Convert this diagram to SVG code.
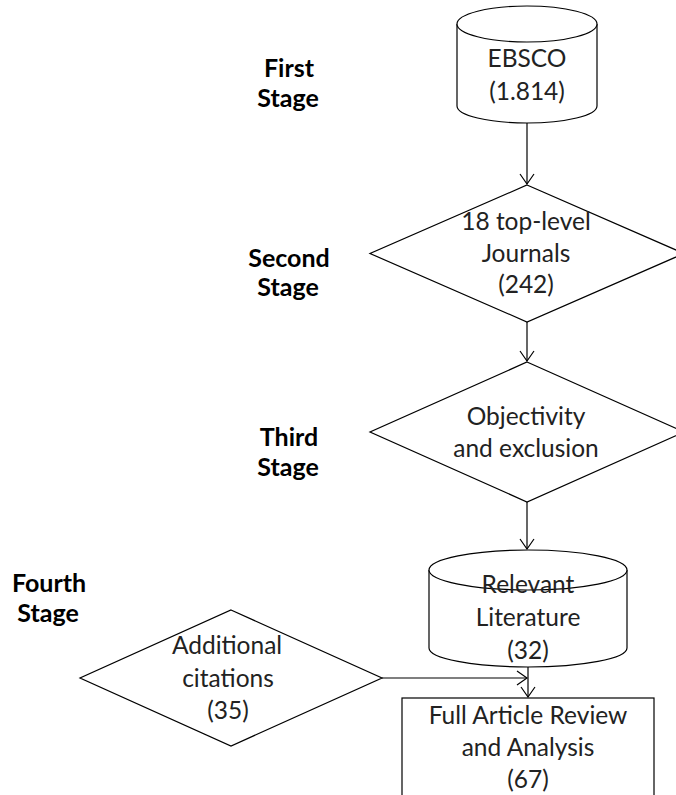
<svg xmlns="http://www.w3.org/2000/svg" width="676" height="795" viewBox="0 0 676 795">
<defs>
<style>
.shape{fill:#fff;stroke:#000;stroke-width:1.2}
.line{fill:none;stroke:#000;stroke-width:1.2}
.t{font-family:Lato,"Liberation Sans",sans-serif;font-size:24.5px;fill:#222;text-anchor:middle}
.s{font-family:Lato,"Liberation Sans",sans-serif;font-size:25px;font-weight:bold;fill:#000;text-anchor:middle}
</style>
<marker id="arr" viewBox="-12 -8 14 16" refX="0" refY="0" markerWidth="14" markerHeight="16" markerUnits="userSpaceOnUse" orient="auto">
<path d="M-10,-7 L0,0 L-10,7" fill="none" stroke="#000" stroke-width="1.2"/>
</marker>
</defs>
<rect width="676" height="795" fill="#fff"/>
<g id="labels">
<text class="s" x="289" y="77">First</text>
<text class="s" x="288" y="107">Stage</text>
<text class="s" x="289" y="267">Second</text>
<text class="s" x="288" y="296">Stage</text>
<text class="s" x="289" y="446">Third</text>
<text class="s" x="288" y="476">Stage</text>
<text class="s" x="49" y="592">Fourth</text>
<text class="s" x="48" y="622">Stage</text>
</g>
<g id="connectors">
<line class="line" x1="527" y1="123" x2="527" y2="184" marker-end="url(#arr)"/>
<line class="line" x1="527" y1="322" x2="527" y2="361" marker-end="url(#arr)"/>
<line class="line" x1="527" y1="502" x2="527" y2="549" marker-end="url(#arr)"/>
<line class="line" x1="528" y1="667" x2="528" y2="697" marker-end="url(#arr)"/>
<line class="line" x1="382" y1="678" x2="527" y2="678" marker-end="url(#arr)"/>
</g>
<g id="ebsco">
<path class="shape" d="M457,24 L457,106 A70,17 0 0 0 597,106 L597,24"/>
<ellipse class="shape" cx="527" cy="24" rx="70" ry="18"/>
<text class="t" x="527" y="67">EBSCO</text>
<text class="t" x="527" y="100">(1.814)</text>
</g>
<g id="journals">
<polygon class="shape" points="527,185 684,253.5 527,322 370,253.5"/>
<text class="t" x="526" y="230">18 top-level</text>
<text class="t" x="526" y="262">Journals</text>
<text class="t" x="526" y="293">(242)</text>
</g>
<g id="objectivity">
<polygon class="shape" points="527,362 684,432 527,502 370,432"/>
<text class="t" x="526" y="425">Objectivity</text>
<text class="t" x="526" y="457">and exclusion</text>
</g>
<g id="relevant">
<path class="shape" d="M429,570 L429,648 A99,19 0 0 0 627,648 L627,570"/>
<ellipse class="shape" cx="528" cy="570" rx="99" ry="20"/>
<text class="t" x="528" y="593">Relevant</text>
<text class="t" x="528" y="626">Literature</text>
<text class="t" x="528" y="659">(32)</text>
</g>
<g id="additional">
<polygon class="shape" points="231,610 382,678 231,746 80,678"/>
<text class="t" x="227" y="654">Additional</text>
<text class="t" x="228" y="687">citations</text>
<text class="t" x="228" y="719">(35)</text>
</g>
<g id="review">
<rect class="shape" x="402" y="698" width="252" height="110"/>
<text class="t" x="528" y="724">Full Article Review</text>
<text class="t" x="528" y="756">and Analysis</text>
<text class="t" x="528" y="788">(67)</text>
</g>
</svg>
